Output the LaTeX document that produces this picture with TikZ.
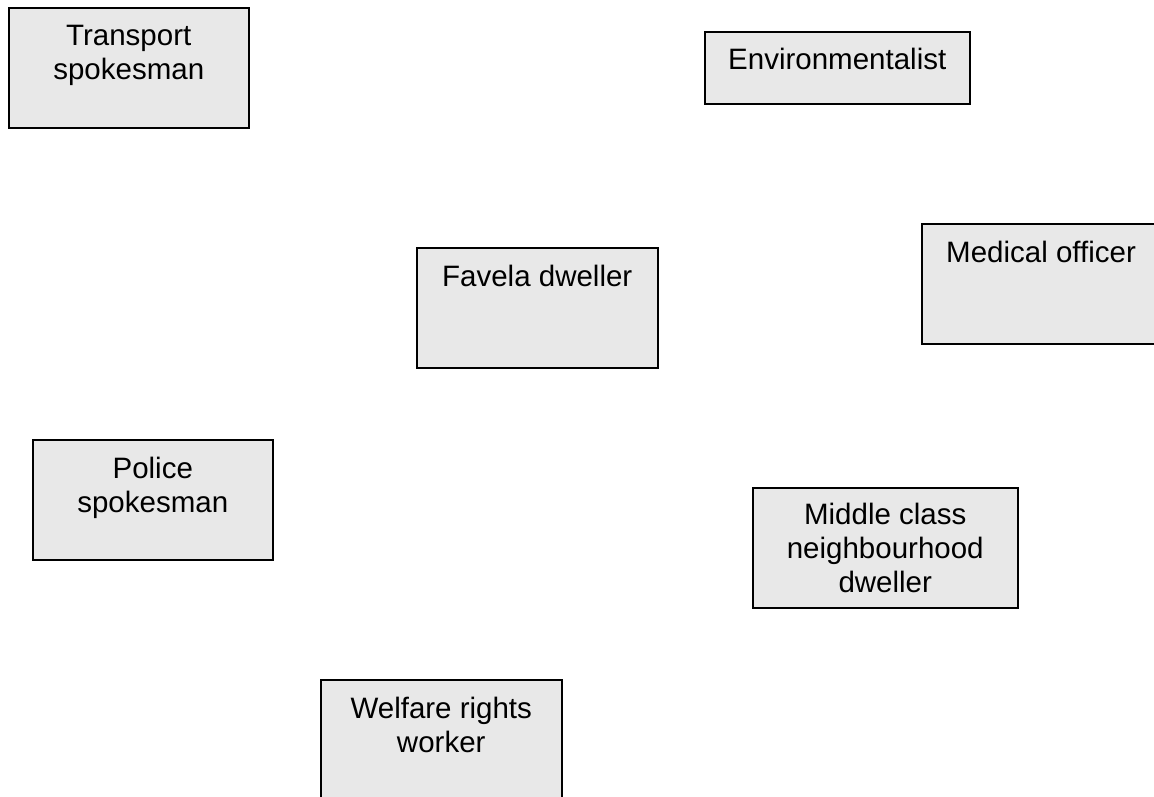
\documentclass[tikz,border=0pt]{standalone}
\usepackage{fontspec}
\setmainfont{Liberation Sans}
\begin{document}
\begin{tikzpicture}[x=1pt,y=-1pt,
  box/.style={draw=black,line width=1.5pt,fill=boxgray,anchor=north west,inner sep=0pt},
  txt/.style={anchor=north,inner sep=0pt,align=center,font=\fontsize{29.5}{34}\selectfont}]
\definecolor{boxgray}{HTML}{E8E8E8}
\useasboundingbox (0,0) rectangle (1154,796);
\clip (0,0) rectangle (1154,796);
\node[box,minimum width=240pt,minimum height=120pt] (ts) at (8,7) {};
\node[txt] (tst) at ([yshift=-18pt]ts.north) {Transport\\spokesman};
\node[box,minimum width=265pt,minimum height=72pt] (en) at (704,31) {};
\node[txt] (ent) at ([yshift=-17pt]en.north) {Environmentalist};
\node[box,minimum width=300pt,minimum height=120pt] (mo) at (921,223) {};
\node[txt,anchor=north west] (mot) at (946,241) {Medical officer};
\node[box,minimum width=241pt,minimum height=120pt] (fd) at (416,247) {};
\node[txt] (fdt) at ([yshift=-18pt]fd.north) {Favela dweller};
\node[box,minimum width=240pt,minimum height=120pt] (ps) at (32,439) {};
\node[txt] (pst) at ([yshift=-18pt]ps.north) {Police\\spokesman};
\node[box,minimum width=265pt,minimum height=120pt] (mc) at (752,487) {};
\node[txt] (mct) at ([yshift=-16pt]mc.north) {Middle class\\neighbourhood\\dweller};
\node[box,minimum width=241pt,minimum height=130pt] (wr) at (320,679) {};
\node[txt] (wrt) at ([yshift=-18pt]wr.north) {Welfare rights\\worker};
\end{tikzpicture}
\end{document}
